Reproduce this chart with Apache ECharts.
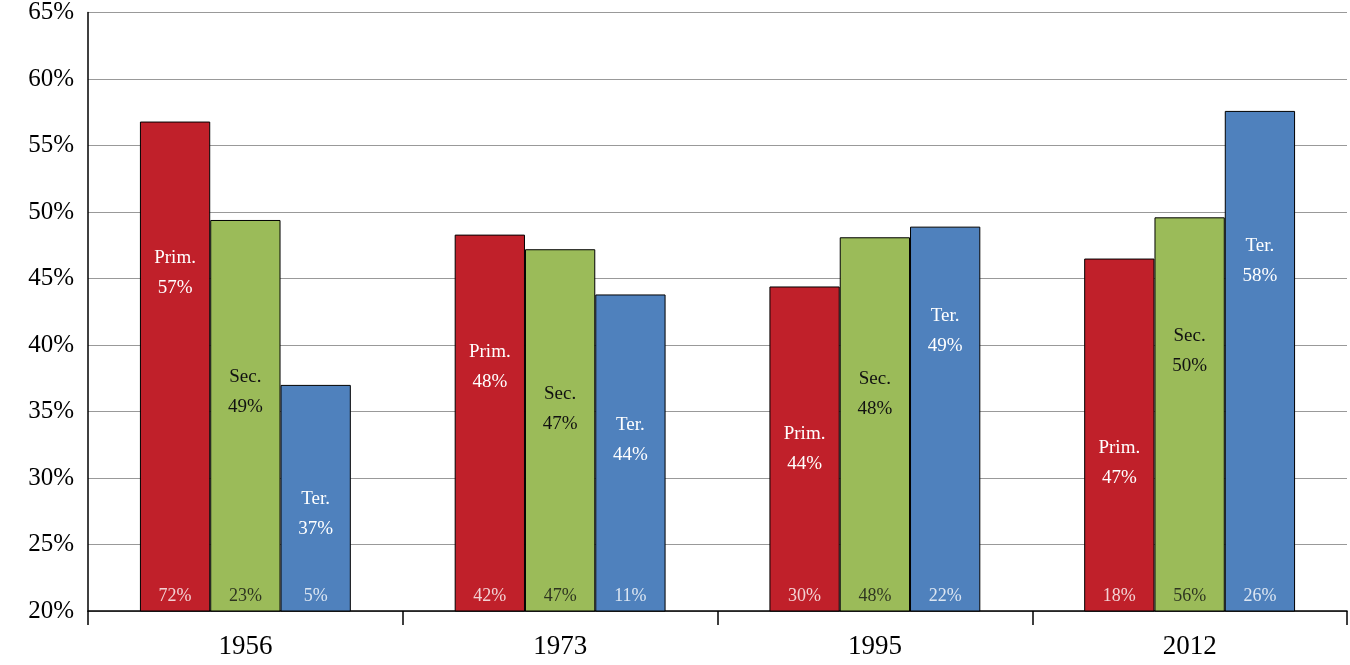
<!DOCTYPE html>
<html><head><meta charset="utf-8">
<script src="https://cdn.jsdelivr.net/npm/echarts@6/dist/echarts.min.js"></script>
<style>html,body{margin:0;padding:0;background:#fff}#c{width:1350px;height:665px}</style>
</head><body><div id="c"></div>
<script>
const years = ['1956','1973','1995','2012'];
const primary = [56.8, 48.3, 44.4, 46.5];
const secondary = [49.4, 47.2, 48.1, 49.6];
const tertiary = [37.0, 43.8, 48.9, 57.6];
const primaryShare = ['72%','42%','30%','18%'];
const secondaryShare = ['23%','47%','48%','56%'];
const tertiaryShare = ['5%','11%','22%','26%'];
const names = ['Prim.','Sec.','Ter.'];

// label vertical placement within bars (styling only)
const labelFrac = [[0.31,0.35,0.50,0.58],[0.44,0.44,0.42,0.34],[0.57,0.46,0.27,0.30]];
const colors = ['#C0202A','#9BBB59','#4F81BD'];
const txtColors = ['#fff','#111','#fff'];
const font = '"Liberation Serif", "DejaVu Serif", serif';

const vals = [primary, secondary, tertiary];
const shares = [primaryShare, secondaryShare, tertiaryShare];
const series = [];
vals.forEach((arr, s) => {
  series.push({
    type: 'bar', data: arr.map((v, i) => ({
      value: v,
      label: {show: true, position: ['50%', (labelFrac[s][i]*100)+'%'], align:'center', verticalAlign:'middle',
        formatter: names[s] + '\n' + Math.round(v) + '%', color: txtColors[s], fontFamily: font, fontSize: 19, lineHeight: 30}
    })),
    itemStyle: {color: colors[s], borderColor: '#000', borderWidth: 1},
    barGap: '0%', barCategoryGap: '33%'
  });
});
const offs = [-70.3, 0, 70.3];
shares.forEach((arr, s) => {
  series.push({
    type: 'scatter', symbolSize: 0, silent: true, z: 5,
    data: arr.map((t, i) => ({value: [years[i], 20], name: t})),
    label: {show: true, position: 'top', distance: 6, offset: [offs[s], 0], formatter: p => p.name,
      color: txtColors[s], fontFamily: font, fontSize: 18}
  });
});

const chart = echarts.init(document.getElementById('c'));
chart.setOption({
  animation: false,
  grid: {left: 88, right: 3, top: 10, bottom: 54},
  xAxis: {type: 'category', data: years,
    axisLine: {lineStyle: {color: '#000', width: 1.5}},
    axisTick: {show: true, length: 14, lineStyle: {color: '#000', width: 1.5}},
    axisLabel: {color: '#000', fontFamily: font, fontSize: 27, margin: 22}},
  yAxis: {type: 'value', min: 20, max: 65, interval: 5,
    axisLine: {show: true, lineStyle: {color: '#000', width: 1.5}},
    axisTick: {show: false},
    splitLine: {lineStyle: {color: '#999', width: 1.2}},
    axisLabel: {color: '#000', fontFamily: font, fontSize: 25, margin: 14, formatter: '{value}%'}},
  series: series
});
</script></body></html>
